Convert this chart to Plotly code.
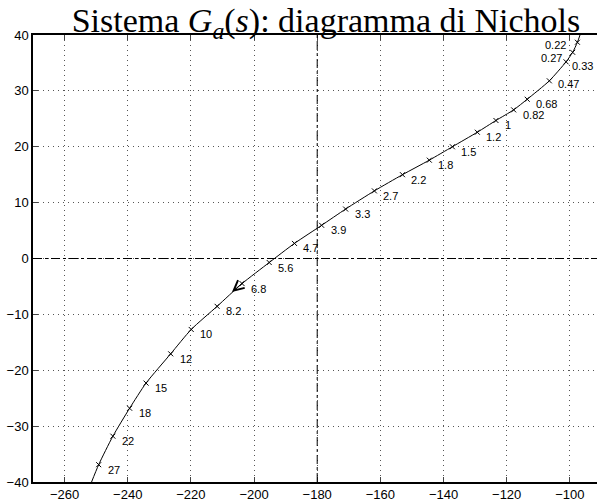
import plotly.graph_objects as go

# Frequency markers (rad/s) along the Nichols curve
freq_labels = ["0.22", "0.27", "0.33", "0.47", "0.68", "0.82", "1", "1.2", "1.5", "1.8",
               "2.2", "2.7", "3.3", "3.9", "4.7", "5.6", "6.8", "8.2", "10", "12",
               "15", "18", "22", "27"]
phase_deg = [-97.6, -99.1, -101.2, -106.5, -113.5, -117.8, -123.4, -129.3, -137.2, -144.5,
             -153.0, -161.9, -171.0, -178.6, -187.2, -195.2, -203.8, -211.7, -219.9, -226.4,
             -234.2, -239.4, -244.7, -249.2]
mag_db = [38.7, 36.9, 35.2, 31.8, 28.5, 26.6, 24.7, 22.6, 20.0, 17.6,
          15.0, 12.1, 8.85, 5.94, 2.7, -0.72, -4.49, -8.56, -12.7, -17.06,
          -22.3, -26.8, -31.8, -36.9]

# curve end points where it leaves the axes
curve_start = (-96.6, 40.3)
curve_end = (-251.6, -40.2)

# direction arrow position on the curve
arrow_point = (-207.0, -6.0)

crit_phase = -180
zero_db = 0

x_ticks = [-260, -240, -220, -200, -180, -160, -140, -120, -100]
y_ticks = [-40, -30, -20, -10, 0, 10, 20, 30, 40]

curve_x = [curve_start[0]] + phase_deg + [curve_end[0]]
curve_y = [curve_start[1]] + mag_db + [curve_end[1]]

fig = go.Figure()
fig.add_trace(go.Scatter(x=curve_x, y=curve_y, mode="lines",
                         line=dict(color="black", width=1, shape="spline", smoothing=0.6),
                         hoverinfo="skip", showlegend=False))
fig.add_trace(go.Scatter(x=phase_deg, y=mag_db, mode="markers",
                         marker=dict(symbol="x-thin", size=5, color="black",
                                     line=dict(color="black", width=1)),
                         showlegend=False))

# frequency labels
special = {
    "0.22": dict(xanchor="right", xshift=-9, yshift=-3),
    "0.27": dict(xanchor="right", xshift=-9, yshift=-6),
    "0.33": dict(xanchor="left", xshift=4, yshift=-4),
    "0.47": dict(xanchor="left", xshift=7, yshift=-3),
}
for lab, px, py in zip(freq_labels, phase_deg, mag_db):
    opts = special.get(lab, dict(xanchor="left", xshift=7, yshift=-5))
    fig.add_annotation(x=px, y=py, text=lab, showarrow=False, yanchor="middle",
                       font=dict(family="Liberation Sans, Arial, sans-serif", size=11, color="#000000"),
                       **opts)

# direction arrow
fig.add_annotation(x=arrow_point[0], y=arrow_point[1], ax=14, ay=-12, axref="pixel", ayref="pixel",
                   showarrow=True, arrowhead=5, arrowsize=2, arrowwidth=1, arrowcolor="black",
                   standoff=0, text="")

# reference lines
fig.add_shape(type="line", xref="paper", x0=0, x1=1, yref="y", y0=zero_db, y1=zero_db,
              line=dict(color="black", width=1, dash="dashdot"))
fig.add_shape(type="line", xref="x", x0=crit_phase, x1=crit_phase, yref="paper", y0=0, y1=1,
              line=dict(color="black", width=1, dash="dashdot"))

fig.update_layout(
    width=597, height=502,
    margin=dict(l=33, r=0, t=35, b=20, autoexpand=False),
    paper_bgcolor="white", plot_bgcolor="white",
    font=dict(family="Liberation Sans, Arial, sans-serif", size=13, color="black"),
    title=dict(text="Sistema <i>G</i><sub><i>a</i></sub>(<i>s</i>): diagramma di Nichols",
               font=dict(family="Liberation Serif, Times New Roman, serif", size=34, color="black"),
               x=0.546, xanchor="center", xref="container",
               y=1 - 20 / 502, yanchor="middle", yref="container"),
)
fig.update_xaxes(range=[-270, -91.4], tickvals=x_ticks, ticks="inside", ticklen=5,
                 showline=True, linecolor="black", linewidth=1.5, mirror="ticks",
                 showgrid=True, gridcolor="#555", griddash="1px,4px", gridwidth=1,
                 zeroline=False, tickfont=dict(size=13))
fig.update_yaxes(range=[-40, 40], tickvals=y_ticks, ticks="inside", ticklen=5,
                 showline=True, linecolor="black", linewidth=1.5,
                 showgrid=True, gridcolor="#555", griddash="1px,4px", gridwidth=1,
                 zeroline=False, tickfont=dict(size=13))

fig.write_html("out.html", config={"displayModeBar": False},
               post_script="document.body.style.margin='0';document.body.style.overflow='hidden';")
